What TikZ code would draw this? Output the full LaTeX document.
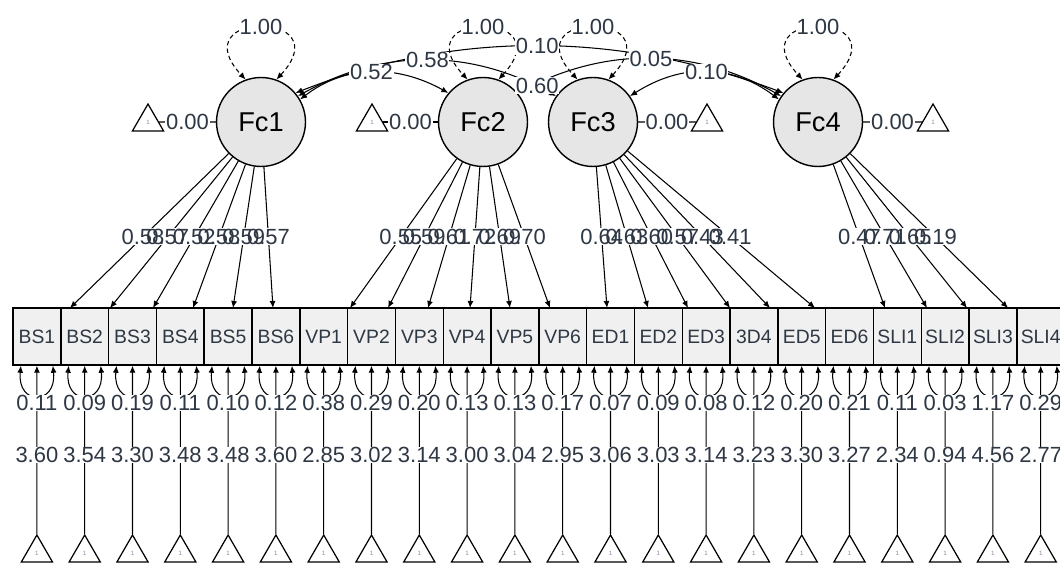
\documentclass[tikz,border=0pt]{standalone}
\usepackage{fontspec}
\setmainfont{Liberation Sans}
\usetikzlibrary{arrows.meta,calc,shapes.geometric}
\definecolor{latfill}{HTML}{E6E6E6}
\definecolor{obsfill}{HTML}{F0F0F0}
\definecolor{labtext}{HTML}{2E3744}
\definecolor{onecol}{HTML}{A07AA8}

\begin{document}
\begin{tikzpicture}[
    x=0.02cm, y=-0.02cm,
    >={Latex[length=4pt,width=3.4pt]},
    latent/.style={draw, circle, fill=latfill, minimum size=1.78cm, inner sep=0pt, line width=0.8pt, font=\fontsize{15.5}{17}\selectfont},
    manifest/.style={draw, fill=obsfill, minimum width=0.956cm, minimum height=1.14cm, inner sep=0pt, line width=0.8pt, font=\fontsize{11}{12}\selectfont, text=labtext},
    intercept/.style={draw, regular polygon, regular polygon sides=3, minimum size=0.72cm, inner sep=0pt, line width=0.7pt, font=\fontsize{3.5}{4}\selectfont, text=onecol},
    elabel/.style={fill=white, inner sep=0.4pt, font=\fontsize{12.5}{14}\selectfont, text=labtext},
    load/.style={->, line width=0.6pt},
    cov/.style={<->, line width=0.6pt},
    resid/.style={<->, line width=0.6pt},
    varloop/.style={<->, line width=0.6pt, dash pattern=on 2.5pt off 1.8pt}
]
\useasboundingbox (0,0) rectangle (1060,564);

% Latent factors
\node[latent] (fc1) at (261,122) {Fc1};
\node[latent] (fc2) at (483,122) {Fc2};
\node[latent] (fc3) at (593,122) {Fc3};
\node[latent] (fc4) at (818,122) {Fc4};

% Factor intercepts
\node[intercept] (tc1) at (148,122) {1};
\node[intercept] (tc2) at (372,122) {1};
\node[intercept] (tc3) at (707,122) {1};
\node[intercept] (tc4) at (933,122) {1};
\foreach \f in {1,...,4}
  \draw[line width=0.6pt] (tc\f) -- node[elabel] {0.00} (fc\f);

% Factor variances
\foreach \f in {1,...,4}
  \draw[varloop] (fc\f.70) .. controls +(65,-70) and +(-65,-70) .. (fc\f.110) node[pos=0.5, elabel] {1.00};

% Factor covariances
\draw[cov] (fc1.40) .. controls (455,30) and (618,31) .. (fc4.140) node[pos=0.5, elabel] {0.10};
\draw[cov] (fc1.35) .. controls (384,48) and (471,49) .. (fc3.145) node[pos=0.5, elabel] {0.58};
\draw[cov] (fc2.40) .. controls (607,46) and (696,48) .. (fc4.145) node[pos=0.5, elabel] {0.05};
\draw[cov] (fc1.30) .. controls (345,65) and (396,64) .. (fc2.140) node[pos=0.5, elabel] {0.52};
\draw[cov] (fc2.45) .. controls (525,84) and (550,84) .. (fc3.140) node[pos=0.5, elabel] {0.60};
\draw[cov] (fc3.35) .. controls (682,63) and (732,64) .. (fc4.150) node[pos=0.5, elabel] {0.10};

% Indicators with residuals and means
\foreach \ind/\res/\mean [count=\i] in {BS1/0.11/3.60, BS2/0.09/3.54, BS3/0.19/3.30, BS4/0.11/3.48, BS5/0.10/3.48, BS6/0.12/3.60, VP1/0.38/2.85, VP2/0.29/3.02, VP3/0.20/3.14, VP4/0.13/3.00, VP5/0.13/3.04, VP6/0.17/2.95, ED1/0.07/3.06, ED2/0.09/3.03, ED3/0.08/3.14, 3D4/0.12/3.23, ED5/0.20/3.30, ED6/0.21/3.27, SLI1/0.11/2.34, SLI2/0.03/0.94, SLI3/1.17/4.56, SLI4/0.29/2.77} {
  \pgfmathsetmacro{\xc}{36.9+47.8*(\i-1)}
  \node[manifest] (ob\i) at (\xc,336.5) {\ind};
  \node[intercept] (tm\i) at (\xc,553) {1};
  \draw[load] (tm\i) -- (ob\i);
  \draw[resid] ([xshift=-0.32cm]ob\i.south) .. controls +(-4,40) and +(4,40) .. ([xshift=0.32cm]ob\i.south);
  \node[elabel] at (\xc,403) {\res};
  \node[elabel] at (\xc,455) {\mean};
}

% Loadings
\foreach \x [count=\i] in {70,110,153,193,233,273,350,388,428,470,510,550,607,648,688,730,770,815,885,927,967,1008}
  \coordinate (tip\i) at (\x,308);
\def\loadlist{1/1/0.58, 2/1/0.57, 3/1/0.52, 4/1/0.58, 5/1/0.59, 6/1/0.57, 7/2/0.55, 8/2/0.59, 9/2/0.61, 10/2/0.72, 11/2/0.69, 12/2/0.70, 13/3/0.64, 14/3/0.63, 15/3/0.60, 16/3/0.57, 17/3/0.43, 18/3/0.41, 19/4/0.47, 20/4/0.71, 21/4/0.65, 22/4/0.19}
\foreach \i/\f/\v in \loadlist
  \draw[load] (fc\f) -- (tip\i);
\foreach \i/\f/\v in \loadlist
  \node[elabel, text=white] at ($(fc\f)!0.618!(tip\i)$) {\v};
\foreach \i/\f/\v in \loadlist
  \node[elabel, fill=none] at ($(fc\f)!0.618!(tip\i)$) {\v};

\end{tikzpicture}
\end{document}
